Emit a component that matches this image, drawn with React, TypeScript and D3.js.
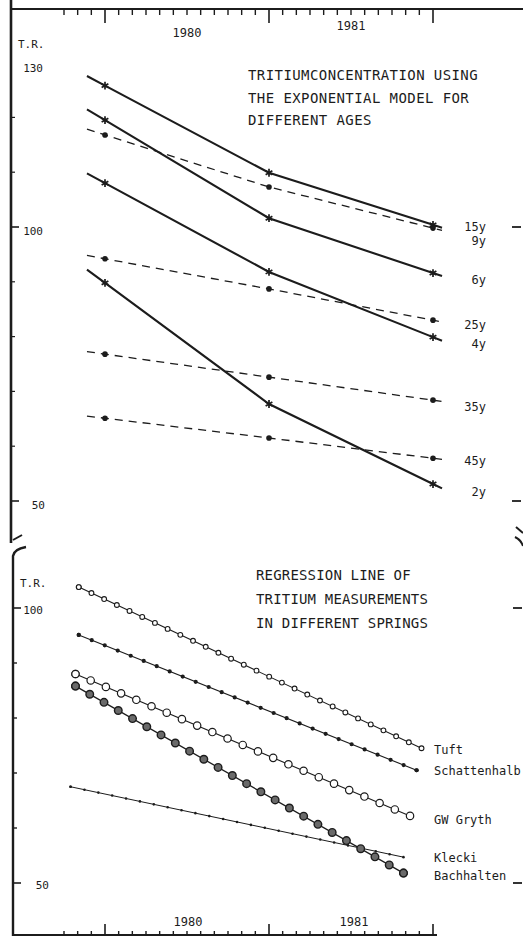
import React from "react";
import * as d3 from "d3";

const W = 523;
const H = 937;

// ---------- Upper panel: exponential model ----------
const modelYears = [1980, 1981, 1982];
const ageLabels = ["9y", "6y", "4y", "2y", "15y", "25y", "35y", "45y"];
const conc9y = [125.8, 109.9, 100.4];
const conc6y = [119.5, 101.6, 91.6];
const conc4y = [108.0, 91.8, 79.9];
const conc2y = [89.8, 67.7, 53.1];
const conc15y = [116.8, 107.3, 99.8];
const conc25y = [94.2, 88.7, 83.0];
const conc35y = [76.8, 72.6, 68.4];
const conc45y = [65.1, 61.5, 57.8];
const ageSeries = [conc9y, conc6y, conc4y, conc2y, conc15y, conc25y, conc35y, conc45y];

// ---------- Lower panel: regression lines ----------
const springNames = ["Tuft", "Schattenhalb", "GW Gryth", "Klecki", "Bachhalten"];
const springStartDate = [1979.84, 1979.84, 1979.82, 1979.79, 1979.82];
const springEndDate = [1981.93, 1981.9, 1981.86, 1981.82, 1981.82];
const springStartValue = [103.8, 95.1, 88.0, 67.5, 85.8];
const springEndValue = [74.5, 70.5, 62.2, 54.7, 51.8];

const yearLabels = ["1980", "1981"];
const topYLabels = [130, 100, 50];
const bottomYLabels = [100, 50];

// ---------- styles ----------
const ink = "#1c1c1c";
const font = "'DejaVu Sans Mono', monospace";
const ageKind = ["star", "star", "star", "star", "dot", "dot", "dot", "dot"];
const ageLabelDy = [16, 7, 7, 8, -1, 5, 7, 3];
const springStyle = [
  { r: 2.4, fill: "#fff", stroke: 1.1, dx: 12.7, lw: 1.1, dy: 2 },
  { r: 2.1, fill: ink, stroke: 0, dx: 12.9, lw: 1.1, dy: 1 },
  { r: 3.7, fill: "#fff", stroke: 1.2, dx: 15.2, lw: 1.1, dy: 4 },
  { r: 1.3, fill: ink, stroke: 0, dx: 13.6, lw: 1.0, dy: 1 },
  { r: 3.8, fill: "#6a6a6a", stroke: 1.4, dx: 14.2, lw: 1.3, dy: 3 },
];

const xS = d3.scaleLinear().domain([1980, 1982]).range([105, 433]);
const yT = d3.scaleLinear().domain([50, 100]).range([501, 227]);
const yB = d3.scaleLinear().domain([50, 100]).range([883, 608]);

const monthTicks = d3.range(0, 28).map((i) => 1979.75 + i / 12);
const isMajor = (t: number) => Math.abs(t - Math.round(t)) < 1e-6;

const line = d3.line<[number, number]>();
const starPath = d3.symbol().type(d3.symbolAsterisk).size(42)() as string;

function extendPts(pts: [number, number][]): [number, number][] {
  const n = pts.length;
  const a = pts[0], b = pts[1];
  const c = pts[n - 2], d = pts[n - 1];
  const s: [number, number] = [a[0] - (b[0] - a[0]) * 0.11, a[1] - (b[1] - a[1]) * 0.11];
  const e: [number, number] = [d[0] + (d[0] - c[0]) * 0.055, d[1] + (d[1] - c[1]) * 0.055];
  return [s, ...pts, e];
}

export default function App() {
  return (
    <svg
      width={W}
      height={H}
      style={{ position: "absolute", left: 0, top: 0, background: "#fff" }}
      fontFamily={font}
    >
      <rect width={W} height={H} fill="#fff" />

      {/* top time axis */}
      <line x1={12} x2={W} y1={9} y2={9} stroke={ink} strokeWidth={2} />
      {monthTicks.map((t, i) => (
        <line
          key={"tt" + i}
          x1={xS(t)}
          x2={xS(t)}
          y1={9}
          y2={isMajor(t) ? 23 : 15}
          stroke={ink}
          strokeWidth={isMajor(t) ? 1.6 : 1.4}
        />
      ))}
      {yearLabels.map((l, i) => (
        <text
          key={"ty" + l}
          x={xS(1980.5 + i)}
          y={i === 0 ? 33 : 26}
          textAnchor="middle"
          dominantBaseline="central"
          fontSize={12}
          fill={ink}
        >
          {l}
        </text>
      ))}

      {/* bottom time axis */}
      <line x1={12} x2={437} y1={935} y2={935} stroke={ink} strokeWidth={2} />
      {monthTicks.map((t, i) => (
        <line
          key={"bt" + i}
          x1={xS(t)}
          x2={xS(t)}
          y1={935}
          y2={isMajor(t) ? 924 : 931}
          stroke={ink}
          strokeWidth={isMajor(t) ? 1.6 : 1.4}
        />
      ))}
      {yearLabels.map((l, i) => (
        <text
          key={"by" + l}
          x={xS(1980.5 + i) + (i === 0 ? 1 : 3)}
          y={922}
          textAnchor="middle"
          dominantBaseline="central"
          fontSize={12}
          fill={ink}
        >
          {l}
        </text>
      ))}

      {/* left axes with break */}
      <line x1={11} x2={11} y1={0} y2={543} stroke={ink} strokeWidth={2.6} />
      <line x1={13} x2={22} y1={540} y2={535} stroke={ink} strokeWidth={2} />
      <path d="M13,936 L13,556 Q14,549 26,547" fill="none" stroke={ink} strokeWidth={2.4} />
      {/* right break marks */}
      <path d="M516,527 L523,533" fill="none" stroke={ink} strokeWidth={2} />
      <path d="M515,537 Q521,540 523,546" fill="none" stroke={ink} strokeWidth={2} />

      {/* upper y ticks */}
      {[60, 70, 80, 90, 110, 120].map((v) => (
        <line key={"ym" + v} x1={12} x2={15} y1={yT(v)} y2={yT(v)} stroke={ink} strokeWidth={1.2} />
      ))}
      {[100, 50].map((v) => (
        <g key={"yM" + v}>
          <line x1={12} x2={19} y1={yT(v)} y2={yT(v)} stroke={ink} strokeWidth={1.6} />
          <line x1={512} x2={521} y1={yT(v)} y2={yT(v)} stroke={ink} strokeWidth={1.8} />
        </g>
      ))}
      {topYLabels.map((v) => (
        <text
          key={"yl" + v}
          x={v === 50 ? 45 : 43}
          y={yT(v) + (v === 130 ? 6 : 4)}
          textAnchor="end"
          dominantBaseline="central"
          fontSize={11}
          fill={ink}
        >
          {v}
        </text>
      ))}
      <text x={18} y={44} dominantBaseline="central" fontSize={11} fill={ink}>
        T.R.
      </text>

      {/* upper title */}
      {["TRITIUMCONCENTRATION USING", "THE EXPONENTIAL MODEL FOR", "DIFFERENT AGES"].map((t, i) => (
        <text
          key={"t" + i}
          x={248}
          y={75 + i * 22.5}
          dominantBaseline="central"
          fontSize={14}
          letterSpacing={0.42}
          fill={ink}
        >
          {t}
        </text>
      ))}

      {/* upper series */}
      {ageSeries.map((vals, i) => {
        const pts = vals.map((v, j) => [xS(modelYears[j]), yT(v)] as [number, number]);
        const star = ageKind[i] === "star";
        return (
          <g key={"age" + i}>
            <path
              d={line(extendPts(pts)) as string}
              fill="none"
              stroke={ink}
              strokeWidth={star ? 2.1 : 1.3}
              strokeDasharray={star ? undefined : "8 6"}
            />
            {pts.map((p, j) =>
              star ? (
                <path
                  key={j}
                  d={starPath}
                  transform={`translate(${p[0]},${p[1]})`}
                  fill="none"
                  stroke={ink}
                  strokeWidth={1.7}
                />
              ) : (
                <circle key={j} cx={p[0]} cy={p[1]} r={2.8} fill={ink} />
              )
            )}
            <text
              x={486}
              y={pts[pts.length - 1][1] + ageLabelDy[i]}
              textAnchor="end"
              dominantBaseline="central"
              fontSize={12}
              fill={ink}
            >
              {ageLabels[i]}
            </text>
          </g>
        );
      })}

      {/* lower y ticks */}
      {[60, 70, 80, 90].map((v) => (
        <line key={"bym" + v} x1={12} x2={17} y1={yB(v)} y2={yB(v)} stroke={ink} strokeWidth={1.4} />
      ))}
      {[100, 50].map((v) => (
        <g key={"byM" + v}>
          <line x1={12} x2={21} y1={yB(v)} y2={yB(v)} stroke={ink} strokeWidth={1.6} />
          <line x1={513} x2={522} y1={yB(v)} y2={yB(v)} stroke={ink} strokeWidth={1.8} />
        </g>
      ))}
      {bottomYLabels.map((v) => (
        <text
          key={"byl" + v}
          x={v === 50 ? 49 : 43}
          y={yB(v) + 2}
          textAnchor="end"
          dominantBaseline="central"
          fontSize={11}
          fill={ink}
        >
          {v}
        </text>
      ))}
      <text x={20} y={583} dominantBaseline="central" fontSize={11} fill={ink}>
        T.R.
      </text>

      {/* lower title */}
      {["REGRESSION LINE OF", "TRITIUM MEASUREMENTS", "IN DIFFERENT SPRINGS"].map((t, i) => (
        <text
          key={"bt" + i}
          x={256}
          y={575 + i * 24}
          dominantBaseline="central"
          fontSize={14}
          letterSpacing={0.17}
          fill={ink}
        >
          {t}
        </text>
      ))}

      {/* lower series */}
      {springNames.map((name, i) => {
        const st = springStyle[i];
        const x0 = xS(springStartDate[i]);
        const x1 = xS(springEndDate[i]);
        const y0 = yB(springStartValue[i]);
        const y1 = yB(springEndValue[i]);
        const d = line([
          [x0, y0],
          [x1, y1],
        ]) as string;
        const n = Math.max(1, Math.round((x1 - x0) / st.dx));
        const outer = st.r * 2 + st.stroke;
        const inner = st.r * 2 - st.stroke;
        return (
          <g key={"sp" + i}>
            <path d={d} fill="none" stroke={ink} strokeWidth={st.lw} />
            <path
              d={d}
              fill="none"
              stroke={ink}
              strokeWidth={outer}
              strokeLinecap="round"
              pathLength={n}
              strokeDasharray="0 1"
            />
            {st.stroke > 0 && (
              <path
                d={d}
                fill="none"
                stroke={st.fill}
                strokeWidth={inner}
                strokeLinecap="round"
                pathLength={n}
                strokeDasharray="0 1"
              />
            )}
            {[
              [x0, y0],
              [x1, y1],
            ].map((p, j) => (
              <circle
                key={j}
                cx={p[0]}
                cy={p[1]}
                r={st.stroke > 0 ? st.r : st.r}
                fill={st.fill}
                stroke={st.stroke > 0 ? ink : "none"}
                strokeWidth={st.stroke}
              />
            ))}
            <text
              x={434}
              y={y1 + st.dy}
              dominantBaseline="central"
              fontSize={12}
              fill={ink}
            >
              {name}
            </text>
          </g>
        );
      })}
    </svg>
  );
}
